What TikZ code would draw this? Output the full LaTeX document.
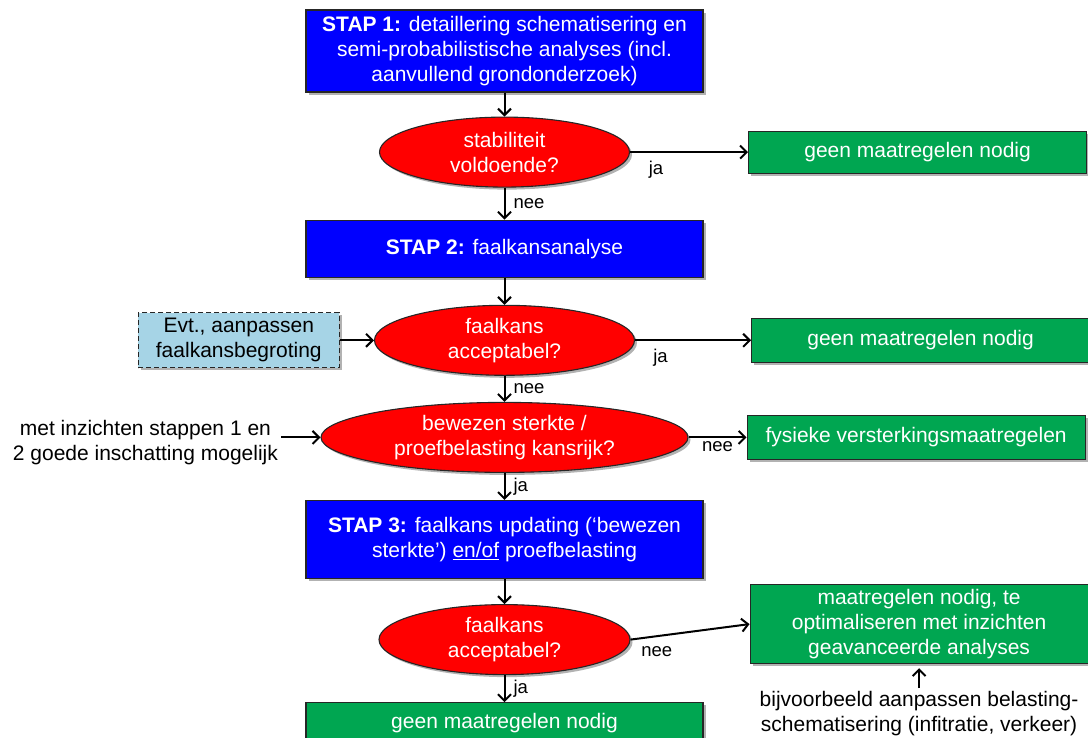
\documentclass[tikz,border=0pt]{standalone}
\usepackage{fontspec}
\setmainfont{Liberation Sans}
\usepackage{tikz}
\usetikzlibrary{arrows.meta,positioning,shapes.geometric,shadows}
\definecolor{stepblue}{HTML}{0000FF}
\definecolor{checkred}{HTML}{FF0000}
\definecolor{okgreen}{HTML}{00A651}
\definecolor{paleblue}{HTML}{A6D4E6}

\begin{document}
\begin{tikzpicture}[x=1pt,y=-1pt,font=\fontsize{21}{25}\selectfont,
  box/.style={draw=black!85,line width=1.1pt,text=white,align=center,inner sep=2pt,
    drop shadow={shadow xshift=2.5pt,shadow yshift=-2.5pt,opacity=0.3,fill=black}},
  stepbox/.style={box,fill=stepblue,minimum width=397pt},
  check/.style={box,ellipse,fill=checkred,inner sep=0pt,minimum height=70pt},
  result/.style={box,fill=okgreen,minimum width=338pt},
  flow/.style={-{Straight Barb[length=6.5pt,width=13pt]},line width=2pt},
  lbl/.style={font=\fontsize{18.5}{22}\selectfont,inner sep=3pt}]
\useasboundingbox (0,0) rectangle (1088,737);
% main column
\node[stepbox,minimum height=82pt] (s1) at (504.5,51) {\textbf{STAP 1:} detaillering schematisering en\\semi-probabilistische analyses (incl.\\aanvullend grondonderzoek)};
\node[check,minimum width=250pt,below=24pt of s1] (d1) {stabiliteit\\voldoende?};
\node[stepbox,minimum height=57pt,below=32pt of d1] (s2) {\textbf{STAP 2:} faalkansanalyse};
\node[check,minimum width=260pt,below=27pt of s2] (d2) {faalkans\\acceptabel?};
\node[check,minimum width=367pt,below=26pt of d2] (d3) {bewezen sterkte /\\proefbelasting kansrijk?};
\node[stepbox,minimum height=78pt,below=27pt of d3] (s3) {\textbf{STAP 3:} faalkans updating (‘bewezen\\sterkte’) \underline{en/of} proefbelasting};
\node[check,minimum width=251pt,below=25pt of s3] (d4) {faalkans\\acceptabel?};
\node[result,minimum width=397pt,minimum height=41pt,below=27pt of d4] (g5) {geen maatregelen nodig};
% side column
\node[result,minimum height=42pt,right=118pt of d1] (g1) {geen maatregelen nodig};
\node[result,minimum height=44pt,right=116pt of d2] (g2) {geen maatregelen nodig};
\node[box,fill=paleblue,text=black,dash pattern=on 5pt off 3pt,line width=1.3pt,minimum width=201pt,minimum height=55pt,left=34pt of d2] (e1) {Evt., aanpassen\\faalkansbegroting};
\node[result,minimum height=44pt,right=58pt of d3] (g3) {fysieke versterkingsmaatregelen};
\node[align=center,left=39pt of d3,yshift=-5pt] (t1) {met inzichten stappen 1 en\\2 goede inschatting mogelijk};
\node[result,minimum height=79pt,right=119pt of d4,yshift=15.5pt] (g4) {maatregelen nodig, te\\optimaliseren met inzichten\\geavanceerde analyses};
\node[align=center,below=24pt of g4] (t2) {bijvoorbeeld aanpassen belasting-\\schematisering (infitratie, verkeer)};
% connectors
\draw[flow] (s1) -- (d1);
\draw[flow] (d1) -- node[lbl,below=5pt,pos=0.22] {ja} (g1);
\draw[flow] (d1) -- node[lbl,right=5pt] {nee} (s2);
\draw[flow] (s2) -- (d2);
\draw[flow] (e1) -- (d2);
\draw[flow] (d2) -- node[lbl,below=5pt,pos=0.22] {ja} (g2);
\draw[flow] (d2) -- node[lbl,right=5pt] {nee} (d3);
\draw[flow] (t1.east |- d3) -- (d3.west);
\draw[flow] (d3) -- node[lbl,below] {nee} (g3);
\draw[flow] (d3) -- node[lbl,right=5pt] {ja} (s3);
\draw[flow] (s3) -- (d4);
\draw[flow] (d4.east) -- node[lbl,below=6pt,pos=0.22] {nee} (g4.west);
\draw[flow] (d4) -- node[lbl,right=5pt] {ja} (g5);
\draw[flow,shorten >=4pt] (t2) -- (g4);
\end{tikzpicture}
\end{document}
